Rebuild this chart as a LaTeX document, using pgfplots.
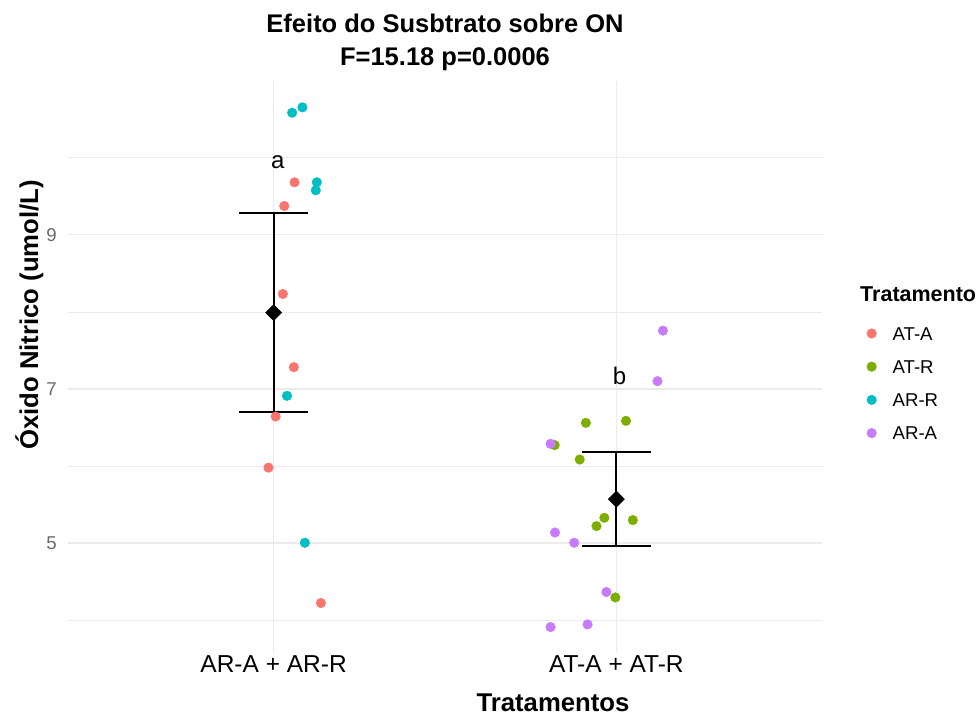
\documentclass[border=0pt]{standalone}
\usepackage{fontspec}
\setmainfont{Liberation Sans}
\usepackage{pgfplots}
\pgfplotsset{compat=1.18}
\definecolor{cRed}{HTML}{F8766D}
\definecolor{cGreen}{HTML}{7CAE00}
\definecolor{cCyan}{HTML}{00BFC4}
\definecolor{cPurple}{HTML}{C77CFF}
\definecolor{gridc}{HTML}{EBEBEB}
\definecolor{tickgray}{HTML}{6A6A6A}
\begin{document}
\begin{tikzpicture}
\useasboundingbox (0,0) rectangle (979pt,718pt);
\begin{axis}[
  at={(68pt,65pt)}, anchor=south west,
  width=754pt, height=572pt, scale only axis,
  xmin=0.4, xmax=2.6, ymin=3.573, ymax=10.997,
  xtick={1,2}, xticklabels={AR-A + AR-R, AT-A + AT-R},
  ytick={5,7,9}, minor ytick={4,6,8,10},
  grid=both,
  major grid style={draw=gridc, line width=1.2pt},
  minor grid style={draw=gridc, line width=0.7pt},
  axis line style={draw=none},
  tick style={draw=none},
  /pgf/number format/assume math mode=true,
  xticklabel style={font=\fontsize{24.5}{29}\selectfont, anchor=base, yshift=-19pt},
  yticklabel style={font=\fontsize{18.6}{22}\selectfont, text=tickgray, anchor=east, inner sep=0pt, xshift=-11pt},
  legend style={at={(1.0595,0.5876)}, anchor=north west, draw=none, fill=none,
    inner sep=0pt, outer sep=0pt, row sep=0pt,
    font=\fontsize{18.6}{22}\selectfont,
    nodes={inner sep=0pt, text height=23.3pt, text depth=9.9pt},
    /tikz/every odd column/.append style={column sep=16.2pt}},
  legend cell align=left,
  legend image code/.code={\draw[#1] plot coordinates {(4.8pt,0pt)};},
]
% AT-A
\addplot[only marks, mark=*, mark size=4.8pt, color=cRed, mark options={draw=none, fill=cRed}] coordinates {
(1.061,9.682) (1.031,9.375) (1.027,8.233) (1.059,7.283) (1.006,6.642) (0.985,5.979) (1.138,4.222)
};
\addlegendentry{AT-A}
% AT-R
\addplot[only marks, mark=*, mark size=4.8pt, color=cGreen, mark options={draw=none, fill=cGreen}] coordinates {
(1.911,6.560) (2.028,6.586) (1.820,6.271) (1.893,6.084) (1.965,5.328) (1.942,5.220) (2.048,5.298) (1.997,4.294)
};
\addlegendentry{AT-R}
% AR-R
\addplot[only marks, mark=*, mark size=4.8pt, color=cCyan, mark options={draw=none, fill=cCyan}] coordinates {
(1.054,10.585) (1.084,10.655) (1.126,9.682) (1.123,9.578) (1.039,6.911) (1.091,5.004)
};
\addlegendentry{AR-R}
% AR-A
\addplot[only marks, mark=*, mark size=4.8pt, color=cPurple, mark options={draw=none, fill=cPurple}] coordinates {
(2.136,7.757) (2.120,7.101) (1.808,6.288) (1.821,5.137) (1.877,5.004) (1.971,4.364) (1.808,3.910) (1.916,3.944)
};
\addlegendentry{AR-A}
% means with error bars
\addplot[forget plot, only marks, black, line width=1.8pt, mark=square*, mark size=5.7pt, mark options={rotate=45, fill=black, draw=black, line width=0.5pt},
  error bars/.cd, y dir=both, y explicit,
  error bar style={draw=black, line width=1.8pt},
  error mark options={rotate=90, draw=black, mark size=34.3pt, line width=1.8pt}]
coordinates {(1,7.99) +- (0,1.29) (2,5.57) +- (0,0.61)};
\node[anchor=base, font=\fontsize{24}{28}\selectfont] at (axis cs:1.012,9.864) {a};
\node[anchor=base, font=\fontsize{24}{28}\selectfont] at (axis cs:2.009,7.053) {b};
\end{axis}
\node[anchor=base, font=\fontsize{25.5}{30}\selectfont\bfseries] at (445pt,685.7pt) {Efeito do Susbtrato sobre ON};
\node[anchor=base, font=\fontsize{25.5}{30}\selectfont\bfseries] at (445pt,652.3pt) {F=15.18 p=0.0006};
\node[rotate=90, anchor=base, font=\fontsize{25.7}{30}\selectfont\bfseries] at (38pt,403pt) {Óxido Nitrico (umol/L)};
\node[anchor=base, font=\fontsize{25.7}{30}\selectfont\bfseries] at (553pt,7pt) {Tratamentos};
\node[anchor=base west, font=\fontsize{21.5}{26}\selectfont\bfseries] at (856.7pt,416.3pt) {Tratamento};
\end{tikzpicture}
\end{document}
